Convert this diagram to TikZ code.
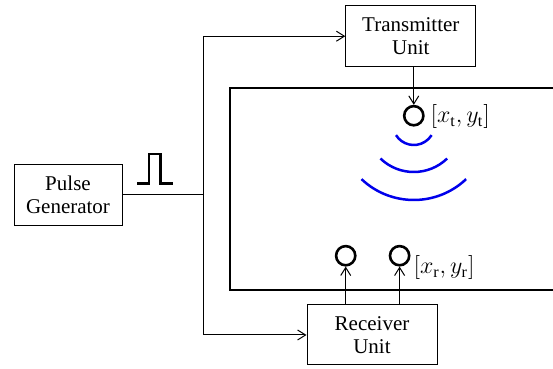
\documentclass[tikz,border=0pt]{standalone}
\usepackage{amsmath, amssymb}
\usepackage{fontspec}
\setmainfont{Liberation Serif}
\usepackage{tikz}
\usetikzlibrary{arrows.meta, positioning, calc}
\usepackage{xcolor}
\definecolor{bleu}{RGB}{0,0,235}

\tikzset{
	unitbox/.style={draw, line width=0.5pt, align=center, inner sep=0pt,
		font=\fontsize{10.5}{11.7}\selectfont},
	antenna/.style={draw, circle, line width=1.3pt, minimum size=9.6pt, inner sep=0pt},
	poslabel/.style={anchor=west, inner sep=0pt, font=\fontsize{11.5}{13}\selectfont},
	>={Straight Barb[length=4pt,width=5pt]}
}

\begin{document}
\begin{tikzpicture}[x=0.5pt, y=0.5pt, line width=0.5pt]
				\useasboundingbox (0,0) rectangle (553,369);
				% blocs
				\node[unitbox, minimum width=54pt, minimum height=30.5pt] (pulsegen) at (68,174.2) {Pulse\\Generator};
				\node[unitbox, minimum width=65pt, minimum height=30.5pt] (txunit) at (410.8,332.8) {Transmitter\\Unit};
				\node[unitbox, minimum width=65pt, minimum height=30pt] (rxunit) at (372,34) {Receiver\\Unit};
				% liaisons
				\coordinate (split) at ([xshift=40.4pt]pulsegen.east);
				\draw (pulsegen.east) -- (split);
				\draw[->] (split) |- (txunit.west);
				\draw[->] (split) |- (rxunit.west);
				% impulsion
				\draw[line width=1.25pt] (137.3,185.7) -| (149,215) -| (160.7,185.7) -- (172.7,185.7);
				% zone
				\draw[line width=1.1pt] (553,280.7) -| (229.6,78.7) -- (553,78.7);
				% antennes
				\node[antenna] (txant) at (413.8,253.3) {};
				\node[antenna] (rxantA) at (345.7,113.3) {};
				\node[antenna] (rxantB) at (399.6,113.3) {};
				\node[poslabel] (txpos) at (430,252) {$[x_{\mathrm{t}},y_{\mathrm{t}}]$};
				\node[poslabel] (rxpos) at (413,101) {$[x_{\mathrm{r}},y_{\mathrm{r}}]$};
				\draw[->] (txant |- txunit.south) -- (txant.north);
				\draw[->] (rxantA |- rxunit.north) -- (rxantA.south);
				\draw[->] (rxantB |- rxunit.north) -- (rxantB.south);
				% ondes
				\coordinate (wavec) at (413.8,245);
				\foreach \r/\a in {10.5/58, 24/44, 38/43.5}
					\draw[bleu, line width=1.25pt] ([shift={(270-\a:\r pt)}]wavec) arc[start angle=270-\a, end angle=270+\a, radius=\r pt];
			\end{tikzpicture}
\end{document}
